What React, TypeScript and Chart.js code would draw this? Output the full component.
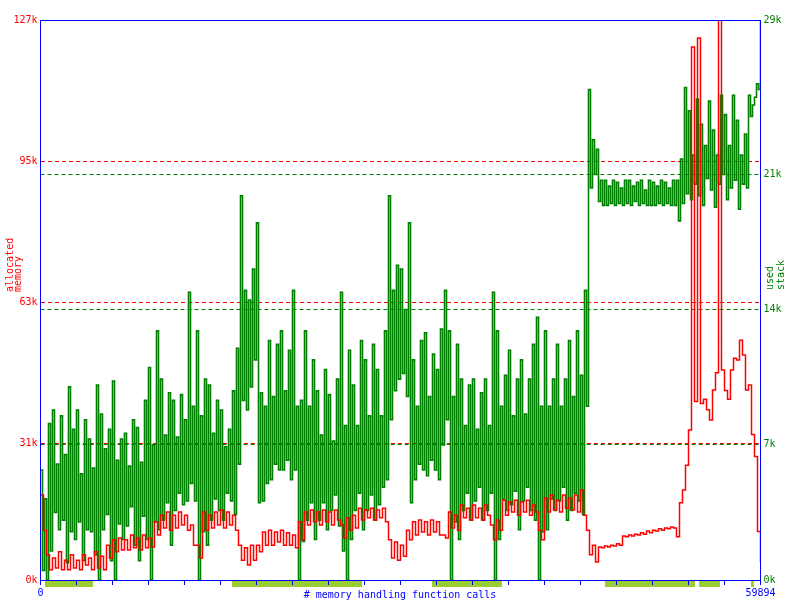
import React, { useEffect, useRef } from 'react';
import { Chart, registerables } from 'chart.js';

Chart.register(...registerables);

// x axis: number of memory handling function calls
const X_MAX = 59894;
const X_TICK_COUNT = 20;
const xTickLabels = ['0', '59894'];
const xTitle = '# memory handling function calls';
const yTitleLeft = ['allocated', 'memory'];
const yTitleRight = ['used', 'stack'];

// tick values (thousands)
const memTicks = [0, 31, 63, 95, 127];
const stackTicks = [0, 7, 14, 21, 29];

// allocated memory (k), evenly spaced samples over the call count
const allocatedMemory = [
  19.3, 11.3, 5.7, 2.3, 5.0, 2.7, 6.4, 2.3, 4.5, 2.3, 5.7, 2.7, 4.5, 2.3, 5.7, 3.4, 5.0, 2.3, 6.4, 2.7,
  5.4, 2.3, 7.9, 5.0, 9.1, 6.4, 9.5, 6.8, 9.1, 6.8, 10.2, 7.3, 9.5, 6.8, 10.2, 7.3, 9.5, 7.5, 13.2, 10.2,
  14.7, 11.8, 15.4, 11.3, 14.7, 11.8, 15.4, 12.5, 14.7, 11.3, 12.5, 7.9, 7.9, 5.0, 15.4, 11.3, 14.7, 11.8, 15.4, 12.5,
  15.9, 11.8, 15.4, 12.5, 14.7, 11.3, 7.9, 4.5, 7.3, 3.4, 7.9, 4.5, 7.9, 6.4, 10.9, 7.9, 11.3, 7.9, 10.9, 8.6,
  11.3, 7.9, 10.7, 7.9, 10.2, 7.3, 13.2, 9.1, 15.4, 12.5, 15.9, 13.2, 15.4, 12.5, 15.9, 13.2, 15.4, 12.5, 15.9, 13.6,
  12.5, 9.5, 14.1, 11.3, 14.7, 11.8, 16.3, 13.6, 15.9, 14.1, 16.3, 13.6, 15.9, 14.1, 16.3, 13.2, 9.1, 5.0, 8.6, 4.5,
  7.9, 5.4, 11.3, 9.1, 13.2, 10.2, 13.6, 10.9, 13.2, 10.2, 13.6, 10.9, 13.2, 10.2, 10.2, 9.5, 15.4, 11.8, 14.7, 11.3,
  17.0, 14.1, 16.3, 13.6, 17.0, 14.1, 16.3, 13.6, 17.0, 14.7, 12.5, 9.1, 13.6, 11.3, 18.1, 14.7, 17.7, 15.4, 18.1, 14.7,
  17.7, 15.4, 18.1, 14.7, 17.0, 15.4, 11.3, 9.1, 18.6, 15.4, 19.3, 15.9, 18.1, 15.4, 19.3, 16.3, 18.6, 15.9, 19.3, 15.4,
  20.4, 14.7, 11.3, 5.7, 7.9, 4.1, 7.5, 7.3, 7.7, 7.5, 7.9, 7.7, 8.2, 7.9, 10.0, 9.8, 10.2, 10.0, 10.4, 10.2,
  10.7, 10.4, 11.1, 10.7, 11.3, 11.1, 11.6, 11.3, 11.8, 11.6, 12.0, 11.8, 9.8, 17.5, 20.4, 26.0, 34.0, 120.9, 40.5, 122.9,
  40.0, 41.0, 38.6, 36.3, 43.1, 47.0, 127, 47.6, 43.0, 41.0, 47.6, 50.3, 49.9, 54.4, 51.0, 43.1, 44.2, 33.0, 28.0, 11.0,
  4.1,
];

// used stack (k), evenly spaced samples over the call count
const usedStack = [
  5.7, 0.5, 4.2, 0, 8.1, 1.5, 8.8, 3.5, 6.0, 2.6, 8.5, 3.1,
  6.5, 0.9, 10.0, 2.5, 7.8, 2.1, 8.8, 3.0, 5.5, 1.0, 8.3, 2.6,
  7.3, 2.5, 5.8, 1.3, 10.1, 0, 8.6, 2.6, 6.8, 3.4, 7.8, 1.0,
  10.3, 0, 6.2, 2.9, 7.3, 2.1, 7.6, 2.8, 5.9, 3.8, 8.3, 1.8,
  7.9, 1.0, 6.1, 3.3, 9.3, 2.1, 11.0, 0, 7.0, 3.0, 12.9, 2.6,
  10.4, 3.1, 7.5, 4.0, 9.7, 1.8, 9.3, 3.6, 7.4, 4.5, 9.6, 3.9,
  8.3, 4.1, 14.9, 5.0, 9.0, 4.1, 12.9, 0, 8.5, 2.5, 10.4, 1.8,
  10.1, 3.1, 7.6, 4.2, 9.3, 3.6, 8.8, 3.1, 6.9, 4.5, 7.8, 4.1,
  9.8, 3.4, 12.0, 6.0, 19.9, 9.3, 15.0, 8.8, 14.5, 10.0, 16.1, 11.4,
  18.5, 4.0, 9.7, 4.1, 9.0, 5.0, 12.4, 5.2, 9.5, 6.0, 12.2, 5.7,
  12.9, 5.7, 9.8, 6.2, 11.9, 5.2, 15.0, 5.7, 9.0, 0, 9.3, 2.0,
  12.9, 3.1, 9.0, 4.0, 11.4, 2.1, 9.8, 3.1, 7.5, 4.0, 10.9, 2.6,
  9.6, 3.6, 7.2, 4.4, 10.4, 2.8, 14.9, 1.5, 8.0, 0, 11.9, 2.1,
  10.1, 3.6, 8.0, 4.5, 12.4, 2.6, 11.4, 3.6, 8.5, 4.4, 12.2, 3.1,
  10.9, 3.9, 8.5, 4.8, 12.9, 5.2, 19.9, 8.3, 15.0, 9.8, 16.3, 10.4,
  16.1, 10.7, 14.0, 9.5, 18.5, 4.0, 11.4, 5.2, 9.0, 6.0, 12.4, 5.7,
  12.8, 5.4, 9.5, 6.2, 11.7, 5.7, 10.9, 5.2, 13.0, 7.0, 15.0, 8.3,
  12.9, 0, 9.5, 3.0, 12.2, 2.1, 10.4, 3.6, 8.0, 4.5, 10.1, 3.1,
  10.4, 4.1, 7.8, 4.8, 9.7, 3.1, 10.4, 3.6, 8.0, 4.5, 14.9, 0,
  12.9, 2.1, 9.0, 4.2, 10.6, 3.6, 11.9, 3.9, 8.5, 4.6, 10.4, 2.6,
  11.4, 4.1, 8.6, 4.8, 10.4, 3.6, 12.2, 3.1, 13.6, 0, 9.0, 2.5,
  12.9, 2.6, 9.0, 4.2, 10.4, 3.6, 12.2, 4.1, 9.0, 4.8, 10.4, 3.1,
  12.4, 3.6, 9.5, 4.5, 12.9, 4.1, 10.6, 3.4, 15.0, 9.0, 25.4, 20.3,
  22.8, 21.0, 22.3, 19.6, 20.7, 19.4, 20.7, 19.4, 20.4, 19.5, 20.7, 19.4,
  20.6, 19.5, 20.3, 19.4, 20.7, 19.5, 20.7, 19.4, 20.4, 19.6, 20.6, 19.4,
  20.7, 19.5, 20.2, 19.4, 20.7, 19.4, 20.6, 19.4, 20.4, 19.5, 20.7, 19.4,
  20.6, 19.5, 20.3, 19.4, 20.7, 19.4,
  20.7, 18.6, 21.8, 19.5, 25.5, 20.0, 24.3, 19.7, 22.0, 20.5, 24.9, 19.9,
  23.6, 19.4, 22.5, 20.8, 24.8, 20.2, 23.3, 19.3, 22.0, 20.5, 25.1, 21.0,
  24.1, 19.7, 22.5, 20.3, 25.1, 20.7, 23.8, 19.2, 22.0, 20.5, 23.1, 20.3,
  25.1, 24.0, 24.6, 25.0, 25.7, 25.4,
  29,
];

// light-green marker segments under the x axis (call ranges)
const markerStart = [416, 15972, 32610, 47002, 54822, 59148];
const markerEnd = [4409, 26787, 38434, 54489, 56569, 59398];

const RED = '#ff0000';
const GREEN = '#008000';
const BLUE = '#0000ff';
const MARKER = '#9acd32';
const FONT = '"DejaVu Sans Mono", monospace';

const toPoints = (vals: number[]) =>
  vals.map((v, i) => ({ x: (i * X_MAX) / (vals.length - 1), y: v }));

const decorPlugin = {
  id: 'decor',
  beforeDraw(chart: any) {
    const { ctx, chartArea } = chart;
    const xs = chart.scales.x;
    ctx.save();
    ctx.fillStyle = MARKER;
    markerStart.forEach((s, i) => {
      const x0 = Math.floor(xs.getPixelForValue(s));
      const x1 = Math.floor(xs.getPixelForValue(markerEnd[i]));
      ctx.fillRect(x0, Math.round(chartArea.bottom) + 1, Math.max(1, x1 - x0), 6);
    });
    ctx.restore();
  },
  afterDraw(chart: any) {
    const { ctx, chartArea: a } = chart;
    const l = Math.floor(a.left) + 0.5;
    const r = Math.floor(a.right) + 0.5;
    const t = Math.floor(a.top) + 0.5;
    const b = Math.floor(a.bottom) + 0.5;
    ctx.save();
    ctx.strokeStyle = BLUE;
    ctx.lineWidth = 1;
    ctx.strokeRect(l, t, r - l, b - t);

    ctx.font = `10px ${FONT}`;
    ctx.textBaseline = 'alphabetic';
    ctx.fillStyle = BLUE;
    ctx.textAlign = 'center';
    ctx.fillText(xTitle, 400, 598);

    ctx.textAlign = 'left';
    ctx.save();
    ctx.translate(13, 292);
    ctx.rotate(-Math.PI / 2);
    ctx.fillStyle = RED;
    yTitleLeft.forEach((txt, i) => ctx.fillText(txt, 0, i * 8));
    ctx.restore();

    ctx.save();
    ctx.translate(773, 290);
    ctx.rotate(-Math.PI / 2);
    ctx.fillStyle = GREEN;
    yTitleRight.forEach((txt, i) => ctx.fillText(txt, 0, i * 11));
    ctx.restore();
    ctx.restore();
  },
};

export default function App() {
  const ref = useRef<HTMLCanvasElement | null>(null);

  useEffect(() => {
    if (!ref.current) return;
    Chart.defaults.font.family = FONT;
    Chart.defaults.font.size = 10;
    const chart = new Chart(ref.current, {
      type: 'line',
      data: {
        datasets: [
          {
            label: 'allocated memory',
            data: toPoints(allocatedMemory),
            yAxisID: 'y',
            borderColor: RED,
            backgroundColor: RED,
            borderWidth: 1.5,
            pointRadius: 0,
            stepped: true,
            order: 0,
          },
          {
            label: 'used stack',
            data: toPoints(usedStack),
            yAxisID: 'y1',
            borderColor: GREEN,
            backgroundColor: GREEN,
            borderWidth: 1.6,
            pointRadius: 0,
            stepped: true,
            order: 1,
          },
        ],
      },
      options: {
        animation: false,
        responsive: false,
        devicePixelRatio: 1,
        layout: { padding: { top: 20, left: 0.5, right: 0, bottom: 0 } },
        plugins: { legend: { display: false }, tooltip: { enabled: false } },
        scales: {
          x: {
            type: 'linear',
            min: 0,
            max: X_MAX,
            afterBuildTicks: (scale: any) => {
              scale.ticks = Array.from({ length: X_TICK_COUNT + 1 }, (_, i) => ({
                value: (i * X_MAX) / X_TICK_COUNT,
              }));
            },
            afterFit: (scale: any) => {
              scale.height = 20;
            },
            ticks: {
              autoSkip: false,
              maxRotation: 0,
              padding: 2,
              color: BLUE,
              font: { family: FONT, size: 10 },
              callback: (_v: any, i: number, ticks: any[]) =>
                i === 0 ? xTickLabels[0] : i === ticks.length - 1 ? xTickLabels[1] : '',
            },
            grid: {
              drawOnChartArea: false,
              drawTicks: true,
              tickLength: 5,
              color: BLUE,
              tickColor: BLUE,
              lineWidth: 1,
            },
            border: { display: false },
          },
          y: {
            type: 'linear',
            position: 'left',
            min: 0,
            max: 127,
            z: 2,
            afterBuildTicks: (scale: any) => {
              scale.ticks = memTicks.map((v) => ({ value: v }));
            },
            afterFit: (scale: any) => {
              scale.width = 40;
            },
            ticks: {
              padding: 3,
              color: RED,
              font: { family: FONT, size: 10 },
              callback: (v: any) => `${v}k`,
            },
            grid: {
              drawTicks: false,
              tickLength: 0,
              lineWidth: 1,
              color: (c: any) =>
                c.tick && (c.tick.value === 0 || c.tick.value === 127) ? 'rgba(0,0,0,0)' : RED,
            },
            border: { display: false, dash: [4, 3] },
          },
          y1: {
            type: 'linear',
            position: 'right',
            min: 0,
            max: 29,
            z: 1,
            afterBuildTicks: (scale: any) => {
              scale.ticks = stackTicks.map((v) => ({ value: v }));
            },
            afterFit: (scale: any) => {
              scale.width = 39.5;
            },
            ticks: {
              padding: 3,
              color: GREEN,
              font: { family: FONT, size: 10 },
              callback: (v: any) => `${v}k`,
            },
            grid: {
              drawTicks: false,
              tickLength: 0,
              lineWidth: 1,
              color: (c: any) =>
                c.tick && (c.tick.value === 0 || c.tick.value === 29) ? 'rgba(0,0,0,0)' : GREEN,
            },
            border: { display: false, dash: [4, 3] },
          },
        },
      },
      plugins: [decorPlugin],
    } as any);
    return () => chart.destroy();
  }, []);

  return (
    <div style={{ position: 'fixed', left: 0, top: 0, width: 800, height: 600, background: '#fff' }}>
      <canvas ref={ref} width={800} height={600} style={{ width: 800, height: 600 }} />
    </div>
  );
}
